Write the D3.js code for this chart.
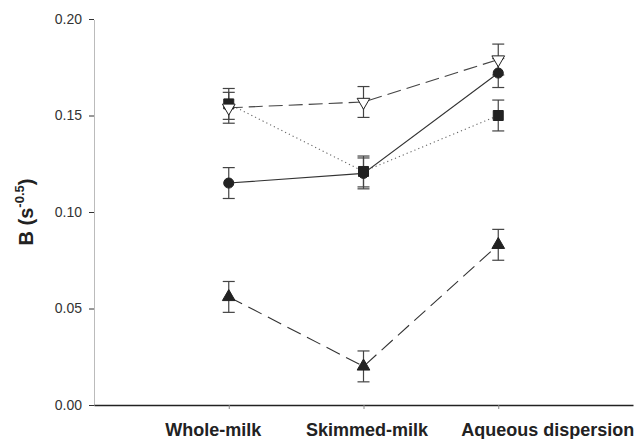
<!DOCTYPE html>
<html><head><meta charset="utf-8">
<script src="https://cdn.jsdelivr.net/npm/d3@7"></script>
<style>body{margin:0;background:#fff}svg{display:block}</style>
</head><body>
<svg id="c" width="638" height="439"></svg>
<script>
const categories = ["Whole-milk", "Skimmed-milk", "Aqueous dispersion"];
const yTicks = [0.00, 0.05, 0.10, 0.15, 0.20];
const circleVals = [0.115, 0.120, 0.172];
const circleErr = [0.008, 0.008, 0.0075];
const triDownVals = [0.154, 0.157, 0.179];
const triDownErr = [0.008, 0.008, 0.008];
const squareVals = [0.156, 0.121, 0.150];
const squareErr = [0.008, 0.008, 0.008];
const triUpVals = [0.056, 0.020, 0.083];
const triUpErr = [0.008, 0.008, 0.008];

const series = [
  {vals: squareVals, err: squareErr, sym: d3.symbolSquare, size: 100, fill: "#222", dash: "1.2,3", stroke: "#666"},
  {vals: circleVals, err: circleErr, sym: d3.symbolCircle, size: 80, fill: "#222", dash: null, stroke: "#333"},
  {vals: triDownVals, err: triDownErr, sym: d3.symbolTriangle, size: 70, fill: "#fff", dash: "14,6", stroke: "#444", rot: 180},
  {vals: triUpVals, err: triUpErr, sym: d3.symbolTriangle, size: 70, fill: "#222", dash: "15,7", stroke: "#333"}
];

const svg = d3.select("#c");
const x = d3.scaleLinear().domain([0, 4]).range([94, 633]);
const y = d3.scaleLinear().domain([0, 0.2]).range([405, 19]);

// y axis
const ya = svg.append("g").attr("transform", "translate(94,0)")
  .call(d3.axisLeft(y).tickValues(yTicks).tickFormat(d3.format(".2f")).tickSize(5).tickSizeOuter(0));
ya.select(".domain").attr("stroke", "#777").attr("stroke-dasharray", "1,1");
ya.selectAll(".tick line").attr("stroke", "#333");
ya.selectAll(".tick text").attr("font-family", "Liberation Sans, Arial, sans-serif").attr("font-size", 14).attr("fill", "#333").attr("dx", "-4");

// x axis
const xa = svg.append("g").attr("transform", "translate(0,405)")
  .call(d3.axisBottom(x).tickValues([1, 2, 3]).tickFormat(i => categories[i - 1]).tickSize(4).tickSizeOuter(0));
xa.select(".domain").attr("stroke", "#222").attr("stroke-width", 1.3);
xa.selectAll(".tick line").attr("stroke", "#888");
const xOff = [-16, 3, 49];
xa.selectAll(".tick text").attr("font-family", "Liberation Sans, Arial, sans-serif").attr("font-size", 18)
  .attr("font-weight", "bold").attr("fill", "#222").attr("y", 31).attr("dy", 0)
  .attr("dx", (d, i) => xOff[i]);

// y label
const yl = svg.append("text").attr("transform", "translate(33,212) rotate(-90)")
  .attr("text-anchor", "middle").attr("font-family", "Liberation Sans, Arial, sans-serif")
  .attr("font-weight", "bold").attr("font-size", 20).attr("fill", "#222");
yl.append("tspan").text("B (s");
yl.append("tspan").attr("font-size", 13).attr("dy", -9).text("-0.5");
yl.append("tspan").attr("dy", 9).text(")");

// lines
series.forEach(s => {
  const line = d3.line().x((d, i) => x(i + 1)).y(d => y(d));
  svg.append("path").datum(s.vals).attr("d", line).attr("fill", "none")
    .attr("stroke", s.stroke).attr("stroke-width", 1.1)
    .attr("stroke-dasharray", s.dash);
});

// error bars
series.forEach(s => {
  s.vals.forEach((v, i) => {
    const cx = x(i + 1), t = y(v + s.err[i]), b = y(v - s.err[i]);
    const g = svg.append("g").attr("stroke", "#444").attr("stroke-width", 1.2);
    g.append("line").attr("x1", cx).attr("x2", cx).attr("y1", t).attr("y2", b);
    g.append("line").attr("x1", cx - 6).attr("x2", cx + 6).attr("y1", t).attr("y2", t);
    g.append("line").attr("x1", cx - 6).attr("x2", cx + 6).attr("y1", b).attr("y2", b);
  });
});

// markers
series.forEach(s => {
  const sym = d3.symbol().type(s.sym).size(s.size);
  s.vals.forEach((v, i) => {
    svg.append("path").attr("d", sym())
      .attr("transform", `translate(${x(i + 1)},${y(v)}) rotate(${s.rot || 0})`)
      .attr("fill", s.fill).attr("stroke", "#222").attr("stroke-width", 1);
  });
});
</script>
</body></html>
